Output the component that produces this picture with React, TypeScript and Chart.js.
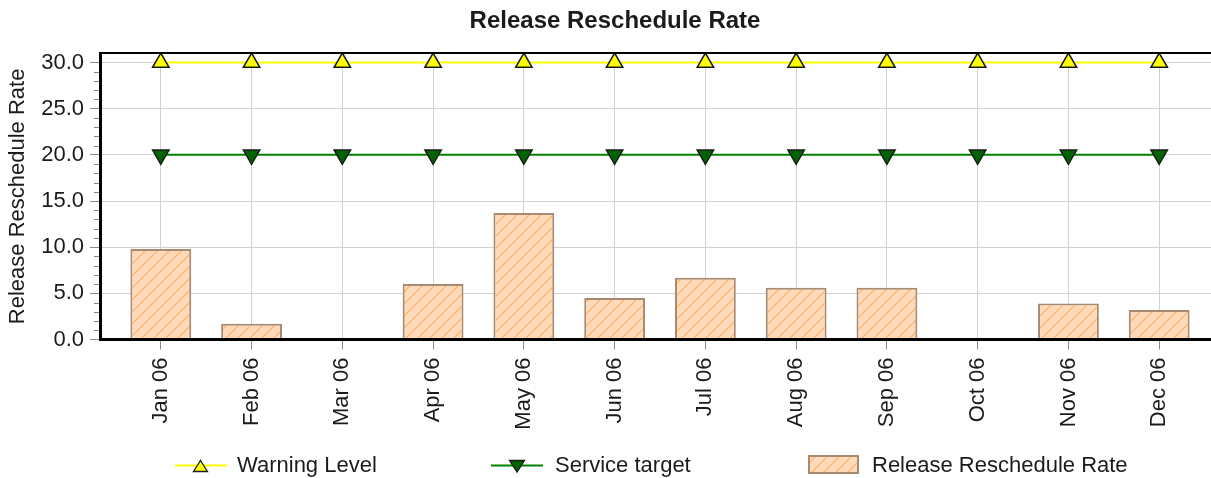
import React, { useEffect, useRef } from "react";
import { Chart, registerables } from "chart.js";

Chart.register(...registerables);

// ---- data ----
const months = ["Jan 06", "Feb 06", "Mar 06", "Apr 06", "May 06", "Jun 06", "Jul 06", "Aug 06", "Sep 06", "Oct 06", "Nov 06", "Dec 06"];
const rescheduleRate = [9.8, 1.7, 0, 6.0, 13.7, 4.5, 6.7, 5.6, 5.6, 0, 3.9, 3.2];
const warningLevel = [30, 30, 30, 30, 30, 30, 30, 30, 30, 30, 30, 30];
const serviceTarget = [20, 20, 20, 20, 20, 20, 20, 20, 20, 20, 20, 20];
const yTickValues = [0, 5, 10, 15, 20, 25, 30];
const yMinorStep = 1;
const yMin = 0;
const yMax = 31;
const xMin = -0.67;
const xMax = 11.78;

const FONT = "'Liberation Sans', Arial, sans-serif";
const TEXT = "#1b1b1b";
const PEACH = "#FFDAB9";
const HATCH = "#FFB575";
const BAR_BORDER = "#A88A70";
const GRID = "#d2d2d2";
const TICK = "#8a8a8a";

function makeHatch(): CanvasPattern | string {
  const s = 12;
  const c = document.createElement("canvas");
  c.width = s;
  c.height = s;
  const g = c.getContext("2d");
  if (!g) return PEACH;
  g.fillStyle = PEACH;
  g.fillRect(0, 0, s, s);
  g.strokeStyle = HATCH;
  g.lineWidth = 1.3;
  g.beginPath();
  g.moveTo(0, s);
  g.lineTo(s, 0);
  g.moveTo(-2, 2);
  g.lineTo(2, -2);
  g.moveTo(s - 2, s + 2);
  g.lineTo(s + 2, s - 2);
  g.stroke();
  const p = g.createPattern(c, "repeat");
  return p || PEACH;
}

const minorTicksPlugin = {
  id: "minorTicks",
  afterDatasetsDraw(chart: any) {
    const y = chart.scales.y;
    const ctx = chart.ctx;
    ctx.save();
    ctx.strokeStyle = TICK;
    ctx.lineWidth = 1;
    for (let v = yMin; v <= 30; v += yMinorStep) {
      if (yTickValues.includes(v)) continue;
      const py = Math.round(y.getPixelForValue(v)) + 0.5;
      ctx.beginPath();
      ctx.moveTo(y.right - 6, py);
      ctx.lineTo(y.right - 1, py);
      ctx.stroke();
    }
    ctx.restore();
  },
};

function ChartCanvas() {
  const ref = useRef<HTMLCanvasElement | null>(null);
  useEffect(() => {
    if (!ref.current) return;
    const hatch = makeHatch();
    const chart = new Chart(ref.current, {
      type: "bar",
      data: {
        datasets: [
          {
            type: "line",
            label: "Warning Level",
            data: warningLevel.map((v, i) => ({ x: i, y: v })),
            borderColor: "#FFFF00",
            borderWidth: 2,
            pointStyle: "triangle",
            pointRadius: 9.5,
            pointBackgroundColor: "#FFFF00",
            pointBorderColor: "#1a1a1a",
            pointBorderWidth: 1.5,
            order: 0,
          } as any,
          {
            type: "line",
            label: "Service target",
            data: serviceTarget.map((v, i) => ({ x: i, y: v })),
            borderColor: "#008000",
            borderWidth: 2,
            pointStyle: "triangle",
            pointRotation: 180,
            pointRadius: 9.5,
            pointBackgroundColor: "#006400",
            pointBorderColor: "#1a1a1a",
            pointBorderWidth: 1.5,
            order: 0,
          } as any,
          {
            type: "bar",
            label: "Release Reschedule Rate",
            data: rescheduleRate.map((v, i) => ({ x: i, y: v })),
            backgroundColor: hatch,
            borderColor: BAR_BORDER,
            borderWidth: 2,
            borderSkipped: "bottom",
            categoryPercentage: 1,
            barPercentage: 0.67,
            order: 1,
          } as any,
        ],
      },
      options: {
        responsive: false,
        animation: false,
        devicePixelRatio: 1,
        layout: { autoPadding: false, padding: { top: 0, left: 0, right: 0, bottom: 48.5 } },
        plugins: {
          legend: { display: false },
          tooltip: { enabled: false },
          title: {
            display: true,
            text: "Release Reschedule Rate",
            color: TEXT,
            font: { family: FONT, size: 24, weight: "bold" },
            padding: { top: 7, bottom: 17.5 },
          },
        },
        scales: {
          x: {
            type: "linear",
            position: "bottom",
            offset: false,
            min: xMin,
            max: xMax,
            afterBuildTicks: (scale: any) => {
              scale.ticks = months.map((_, i) => ({ value: i }));
            },
            afterFit: (scale: any) => {
              scale.height = 90;
              scale.paddingLeft = 0;
              scale.paddingRight = 0;
            },
            ticks: {
              autoSkip: false,
              minRotation: 90,
              maxRotation: 90,
              padding: 8,
              color: TEXT,
              font: { family: FONT, size: 22 },
              callback: (value: any) => months[value] ?? "",
            },
            grid: {
              offset: false,
              color: GRID,
              lineWidth: 1,
              tickColor: TICK,
              tickLength: 10,
              drawOnChartArea: true,
            },
            border: { display: true, color: "#000", width: 3, z: 1 },
          },
          x2: {
            type: "linear",
            position: "top",
            offset: false,
            min: xMin,
            max: xMax,
            afterFit: (scale: any) => {
              scale.height = 0;
              scale.paddingLeft = 0;
              scale.paddingRight = 0;
            },
            ticks: { display: false },
            grid: { display: false, drawTicks: false, offset: false },
            border: { display: true, color: "#000", width: 2, z: 1 },
          },
          y: {
            type: "linear",
            position: "left",
            min: yMin,
            max: yMax,
            afterBuildTicks: (scale: any) => {
              scale.ticks = yTickValues.map((v) => ({ value: v }));
            },
            afterFit: (scale: any) => {
              scale.width = 100;
            },
            ticks: {
              padding: 6,
              color: TEXT,
              font: { family: FONT, size: 22 },
              callback: (value: any) => Number(value).toFixed(1),
            },
            grid: {
              color: GRID,
              lineWidth: 1,
              tickColor: TICK,
              tickLength: 10,
            },
            border: { display: true, color: "#000", width: 3, z: 1 },
            title: {
              display: true,
              text: "Release Reschedule Rate",
              color: TEXT,
              font: { family: FONT, size: 22 },
              padding: { top: 5, bottom: 0 },
            },
          },
        },
      },
      plugins: [minorTicksPlugin],
    } as any);
    return () => chart.destroy();
  }, []);
  return <canvas ref={ref} width={1230} height={478} style={{ display: "block", width: 1230, height: 478 }} />;
}

const legendText: React.CSSProperties = {
  position: "absolute",
  top: 454,
  fontFamily: FONT,
  fontSize: 22,
  lineHeight: "22px",
  color: TEXT,
  whiteSpace: "nowrap",
};

export default function App() {
  return (
    <div style={{ position: "fixed", left: 0, top: 0, width: 1211, height: 478, overflow: "hidden", background: "#fff" }}>
      <ChartCanvas />
      <svg style={{ position: "absolute", left: 0, top: 0 }} width={1211} height={478} pointerEvents="none">
        <defs>
          <pattern id="hatch" patternUnits="userSpaceOnUse" width="12" height="12">
            <rect width="12" height="12" fill={PEACH} />
            <path d="M0,12 L12,0 M-2,2 L2,-2 M10,14 L14,10" stroke={HATCH} strokeWidth="1.3" />
          </pattern>
        </defs>
        <line x1={175} y1={465.5} x2={227} y2={465.5} stroke="#FFFF00" strokeWidth={2} />
        <polygon points="200.5,460.5 207.5,471.5 193.5,471.5" fill="#FFFF00" stroke="#1a1a1a" strokeWidth={1.3} />
        <line x1={491} y1={465.5} x2={543} y2={465.5} stroke="#008000" strokeWidth={2} />
        <polygon points="509.5,460.5 524.5,460.5 517,472" fill="#006400" stroke="#1a1a1a" strokeWidth={1.3} />
        <rect x={809} y={456} width={49} height={17} fill="url(#hatch)" stroke={BAR_BORDER} strokeWidth={2} />
      </svg>
      <span style={{ ...legendText, left: 237 }}>Warning Level</span>
      <span style={{ ...legendText, left: 555 }}>Service target</span>
      <span style={{ ...legendText, left: 872 }}>Release Reschedule Rate</span>
    </div>
  );
}
